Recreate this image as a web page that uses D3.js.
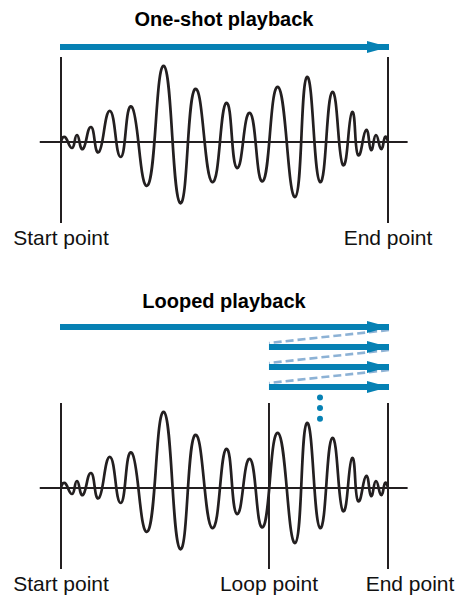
<!DOCTYPE html>
<html>
<head>
<meta charset="utf-8">
<script src="https://cdn.jsdelivr.net/npm/d3@7"></script>
<style>
  body { margin: 0; background: #fff; }
  svg { display: block; font-family: 'Liberation Sans', Arial, sans-serif; }
</style>
</head>
<body>
<div class="diagram"></div>
<script>
'use strict'
// waveform extrema: position (% of sample length) and amplitude
var waveT = [0, 1.2, 3.4, 4.9, 6.7, 9.2, 11.6, 15.0, 18.3, 21.7, 26.6, 31.5, 36.4, 41.0, 46.2,
  50.5, 53.8, 57.8, 61.8, 66.4, 71.6, 75.2, 79.2, 82.9, 86.2, 89.0, 90.8, 93.3, 94.8,
  96.3, 97.9, 99.1, 100]
var waveA = [0, 5, -6, 7, -7, 15, -10, 31, -15, 35, -43, 76, -61, 53, -40,
  39, -26, 29, -39, 55, -55, 65, -40, 50, -23, 30, -13, 12, -8,
  7, -7, 5, 0]

var panelTitles = ['One-shot playback', 'Looped playback']
var startPoint = 0
var loopPoint = 63.6
var endPoint = 100
var loopRepeats = 3

var width = 461
var height = 598
var blue = '#0681b4'
var paleBlue = '#8db2d5'

var svg = d3.select('.diagram').append('svg')
  .attr('width', width)
  .attr('height', height)

svg.append('defs').append('marker')
  .attr('id', 'head')
  .attr('viewBox', '0 0 22 12')
  .attr('refX', 22)
  .attr('refY', 6)
  .attr('markerWidth', 22)
  .attr('markerHeight', 12)
  .attr('markerUnits', 'userSpaceOnUse')
  .attr('orient', 'auto')
  .append('path')
  .attr('d', 'M0,0L22,6L0,12Z')
  .attr('fill', blue)

var x = d3.scaleLinear().domain([0, 100]).range([61, 388])

var points = waveT.map(function (t, i) { return { t: t, a: waveA[i] } })

var drawPanel = function (base, titleY, title, markers) {
  var y = d3.scaleLinear().domain([-80, 80]).range([base + 80, base - 80])
  var g = svg.append('g')

  g.append('text')
    .attr('x', 224)
    .attr('y', titleY)
    .attr('text-anchor', 'middle')
    .attr('font-size', 20)
    .attr('font-weight', 'bold')
    .text(title)

  // baseline
  g.append('line')
    .attr('x1', x(-6.5)).attr('x2', x(106))
    .attr('y1', y(0)).attr('y2', y(0))
    .attr('stroke', '#231f20').attr('stroke-width', 2)

  // marker lines + labels
  markers.forEach(function (m) {
    g.append('line')
      .attr('x1', x(m.t)).attr('x2', x(m.t))
      .attr('y1', y(85)).attr('y2', y(-81))
      .attr('stroke', '#231f20').attr('stroke-width', 2)
    g.append('text')
      .attr('x', x(m.t) + (m.dx || 0))
      .attr('y', base + 103)
      .attr('text-anchor', 'middle')
      .attr('font-size', 21)
      .attr('fill', '#111')
      .text(m.label)
  })

  var line = d3.line()
    .x(function (d) { return x(d.t) })
    .y(function (d) { return y(d.a) })
    .curve(d3.curveCardinal.tension(-0.5))

  g.append('path')
    .datum(points)
    .attr('d', line)
    .attr('fill', 'none')
    .attr('stroke', '#231f20')
    .attr('stroke-width', 2.7)
    .attr('stroke-linejoin', 'round')

  return g
}

// one-shot
var p1 = drawPanel(142, 26, panelTitles[0], [
  { t: startPoint, label: 'Start point' },
  { t: endPoint, label: 'End point' }
])
p1.append('line')
  .attr('x1', x(startPoint) - 1).attr('x2', x(endPoint) + 1)
  .attr('y1', 47).attr('y2', 47)
  .attr('stroke', blue).attr('stroke-width', 6)
  .attr('marker-end', 'url(#head)')

// looped
var p2 = drawPanel(488, 308, panelTitles[1], [
  { t: startPoint, label: 'Start point' },
  { t: loopPoint, label: 'Loop point' },
  { t: endPoint, label: 'End point', dx: 22 }
])

var arrowY = d3.range(loopRepeats + 1).map(function (i) { return 327 + i * 20 })

// dashed return paths
p2.selectAll('.ret')
  .data(d3.range(loopRepeats))
  .enter().append('line')
  .attr('class', 'ret')
  .attr('x1', x(endPoint) + 1)
  .attr('y1', function (i) { return arrowY[i] + 3 })
  .attr('x2', x(loopPoint))
  .attr('y2', function (i) { return arrowY[i + 1] - 4 })
  .attr('stroke', paleBlue)
  .attr('stroke-width', 2.6)
  .attr('stroke-dasharray', '8,4')

p2.selectAll('.loop')
  .data(arrowY)
  .enter().append('line')
  .attr('class', 'loop')
  .attr('x1', function (d, i) { return i === 0 ? x(startPoint) - 1 : x(loopPoint) })
  .attr('x2', x(endPoint) + 1)
  .attr('y1', function (d) { return d })
  .attr('y2', function (d) { return d })
  .attr('stroke', blue).attr('stroke-width', 6)
  .attr('marker-end', 'url(#head)')

p2.selectAll('.dot')
  .data([0, 1, 2])
  .enter().append('circle')
  .attr('class', 'dot')
  .attr('cx', 320)
  .attr('cy', function (d) { return 397.5 + d * 10.6 })
  .attr('r', 3)
  .attr('fill', blue)
</script>
</body>
</html>
